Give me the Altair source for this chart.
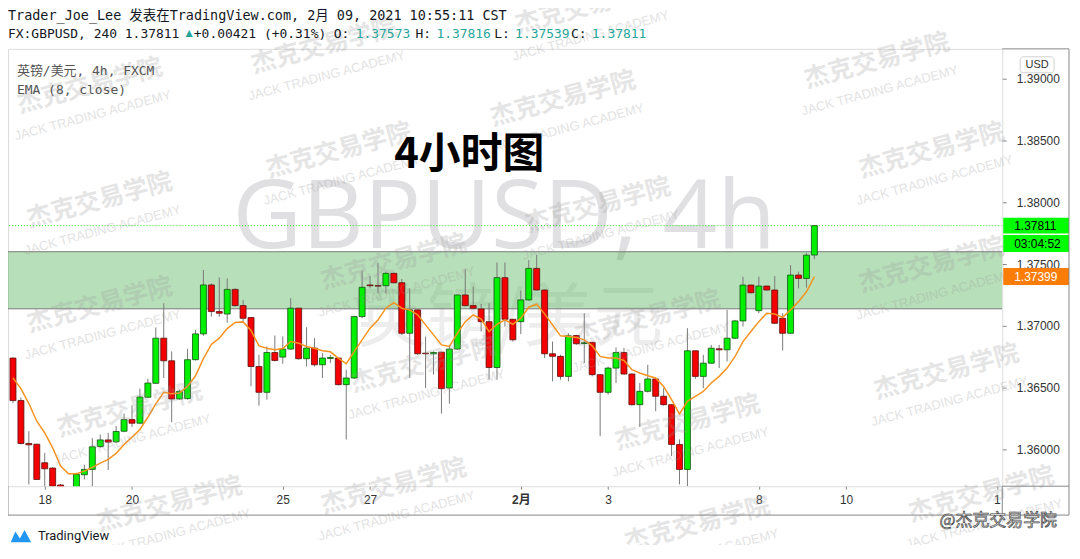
import altair as alt
import pandas as pd

# ---------------- data ----------------
opens = [1.36739, 1.36395, 1.36048, 1.36042, 1.35892, 1.35849, 1.35712, 1.35690, 1.35630, 1.35795,
         1.35838, 1.36023, 1.36077, 1.36061, 1.36147, 1.36241, 1.36212, 1.36422, 1.36535, 1.36900,
         1.36717, 1.36408, 1.36411, 1.36726, 1.36935, 1.37331, 1.37116, 1.37096, 1.37295, 1.37164,
         1.37067, 1.36671, 1.36462, 1.36784, 1.36747, 1.36812, 1.37143, 1.36734, 1.36820, 1.36685,
         1.36736, 1.36739, 1.36524, 1.36578, 1.37075, 1.37331, 1.37325, 1.37325, 1.37425, 1.37349,
         1.36940, 1.37129, 1.36779, 1.36774, 1.36787, 1.36497, 1.36812, 1.37250, 1.37164, 1.37137,
         1.37034, 1.36663, 1.37390, 1.37053, 1.37034, 1.37210, 1.37465, 1.37290, 1.36774, 1.36753,
         1.36591, 1.36922, 1.36857, 1.36866, 1.36605, 1.36462, 1.36658, 1.36784, 1.36610, 1.36362,
         1.36470, 1.36570, 1.36430, 1.36362, 1.36040, 1.35838, 1.36798, 1.36591, 1.36698, 1.36814,
         1.36806, 1.36900, 1.37040, 1.37330, 1.37123, 1.37322, 1.37290, 1.37061, 1.36940, 1.37411,
         1.37384, 1.37573]
highs = [1.36745, 1.36420, 1.36147, 1.36045, 1.35972, 1.35855, 1.35720, 1.35695, 1.35800, 1.35876,
         1.36091, 1.36120, 1.36134, 1.36188, 1.36290, 1.36357, 1.36492, 1.36572, 1.36987, 1.37183,
         1.36793, 1.36484, 1.36814, 1.36968, 1.37452, 1.37344, 1.37392, 1.37384, 1.37304, 1.37209,
         1.37070, 1.36765, 1.36833, 1.36922, 1.36914, 1.37223, 1.37145, 1.36989, 1.36900, 1.36779,
         1.36765, 1.36745, 1.36645, 1.37081, 1.37447, 1.37403, 1.37511, 1.37439, 1.37430, 1.37380,
         1.37304, 1.37135, 1.36914, 1.36793, 1.36790, 1.36833, 1.37255, 1.37460, 1.37317, 1.37177,
         1.37183, 1.37513, 1.37513, 1.37056, 1.37285, 1.37532, 1.37573, 1.37295, 1.36873, 1.36766,
         1.36940, 1.36927, 1.37102, 1.36870, 1.36608, 1.36671, 1.36825, 1.36820, 1.36615, 1.36537,
         1.36685, 1.36575, 1.36497, 1.36365, 1.36081, 1.36981, 1.36800, 1.36765, 1.36846, 1.36846,
         1.37129, 1.37048, 1.37398, 1.37333, 1.37398, 1.37325, 1.37403, 1.37102, 1.37492, 1.37438,
         1.37591, 1.37816]
lows = [1.36376, 1.36040, 1.35717, 1.35752, 1.35650, 1.35640, 1.35620, 1.35580, 1.35600, 1.35757,
        1.35700, 1.36013, 1.35833, 1.36053, 1.36139, 1.36182, 1.36206, 1.36416, 1.36529, 1.36578,
        1.36220, 1.36403, 1.36403, 1.36720, 1.36919, 1.37075, 1.37075, 1.37026, 1.37156, 1.37034,
        1.36510, 1.36354, 1.36403, 1.36712, 1.36693, 1.36806, 1.36726, 1.36671, 1.36671, 1.36578,
        1.36700, 1.36518, 1.36080, 1.36570, 1.37061, 1.37304, 1.37263, 1.37263, 1.37344, 1.36927,
        1.36578, 1.36766, 1.36497, 1.36605, 1.36290, 1.36371, 1.36806, 1.37156, 1.37135, 1.36954,
        1.36564, 1.36564, 1.36994, 1.36873, 1.36932, 1.37202, 1.37285, 1.36739, 1.36551, 1.36564,
        1.36551, 1.36847, 1.36699, 1.36591, 1.36107, 1.36443, 1.36537, 1.36605, 1.36354, 1.36182,
        1.36460, 1.36309, 1.36354, 1.35946, 1.35717, 1.35703, 1.36570, 1.36496, 1.36693, 1.36658,
        1.36712, 1.36892, 1.36994, 1.37263, 1.37102, 1.37285, 1.37015, 1.36800, 1.36935, 1.37303,
        1.37309, 1.37539]
closes = [1.36395, 1.36048, 1.36037, 1.35757, 1.35843, 1.35703, 1.35690, 1.35630, 1.35798, 1.35838,
          1.36021, 1.36077, 1.36059, 1.36145, 1.36241, 1.36212, 1.36424, 1.36537, 1.36900, 1.36717,
          1.36408, 1.36470, 1.36726, 1.36935, 1.37331, 1.37116, 1.37102, 1.37295, 1.37164, 1.37061,
          1.36671, 1.36462, 1.36784, 1.36720, 1.36812, 1.37143, 1.36734, 1.36820, 1.36685, 1.36739,
          1.36744, 1.36524, 1.36578, 1.37075, 1.37312, 1.37325, 1.37322, 1.37425, 1.37349, 1.36940,
          1.37129, 1.36774, 1.36774, 1.36784, 1.36492, 1.36812, 1.37250, 1.37164, 1.37143, 1.37034,
          1.36663, 1.37390, 1.37053, 1.36887, 1.37210, 1.37465, 1.37290, 1.36774, 1.36753, 1.36591,
          1.36919, 1.36855, 1.36863, 1.36605, 1.36462, 1.36658, 1.36784, 1.36610, 1.36362, 1.36470,
          1.36570, 1.36430, 1.36362, 1.36040, 1.35838, 1.36798, 1.36591, 1.36698, 1.36819, 1.36806,
          1.36900, 1.37040, 1.37330, 1.37268, 1.37322, 1.37290, 1.37021, 1.36940, 1.37411, 1.37384,
          1.37572, 1.37811]
ema8 = [1.36578, 1.36492, 1.36371, 1.36228, 1.36134, 1.36013, 1.35865, 1.35803, 1.35803, 1.35824,
        1.35854, 1.35889, 1.35919, 1.35967, 1.36040, 1.36099, 1.36161, 1.36260, 1.36368, 1.36462,
        1.36451, 1.36457, 1.36510, 1.36596, 1.36734, 1.36849, 1.36900, 1.36978, 1.37027, 1.37032,
        1.36962, 1.36838, 1.36819, 1.36806, 1.36817, 1.36873, 1.36860, 1.36833, 1.36819, 1.36798,
        1.36790, 1.36739, 1.36693, 1.36792, 1.36887, 1.36981, 1.37048, 1.37143, 1.37188, 1.37143,
        1.37129, 1.37089, 1.37008, 1.36927, 1.36846, 1.36833, 1.36940, 1.37034, 1.37089, 1.37054,
        1.36954, 1.37013, 1.37048, 1.37013, 1.37062, 1.37151, 1.37175, 1.37097, 1.37008, 1.36919,
        1.36914, 1.36905, 1.36887, 1.36838, 1.36753, 1.36739, 1.36739, 1.36720, 1.36645, 1.36618,
        1.36596, 1.36578, 1.36510, 1.36403, 1.36287, 1.36389, 1.36429, 1.36469, 1.36537, 1.36591,
        1.36658, 1.36752, 1.36873, 1.36954, 1.37034, 1.37102, 1.37096, 1.37069, 1.37129, 1.37196,
        1.37276, 1.37399]

tick_idx = [4, 15, 34, 45, 64, 75, 94, 105, 124]
tick_lbl = ["18", "20", "25", "27", "2月", "3", "8", "10", "1"]
price_ticks = [1.36, 1.365, 1.37, 1.375, 1.38, 1.385, 1.39]
zone_top = [1.37600]
zone_bottom = [1.37138]
last_close = [1.37811]
last_ema = [1.37399]
countdown = "03:04:52"

header1 = "Trader_Joe_Lee 发表在TradingView.com, 2月 09, 2021 10:55:11 CST"
symbol_line = "FX:GBPUSD, 240 1.37811"
change_txt = "+0.00421 (+0.31%)"
ohlc_keys = ["O:", "H:", "L:", "C:"]
ohlc_vals = ["1.37573", "1.37816", "1.37539", "1.37811"]
legend1 = "英镑/美元, 4h, FXCM"
legend2 = "EMA (8, close)"
title_txt = "4小时图"
wm_big1 = "GBPUSD, 4h"
wm_big2 = "英镑/美元"
wm_cn = "杰克交易学院"
wm_en = "JACK TRADING ACADEMY"

# ---------------- layout constants ----------------
W, H = 998, 439
MONO = "DejaVu Sans Mono, Noto Sans CJK SC"
SANS = "Liberation Sans, Noto Sans CJK SC"
CJK = "Noto Sans CJK SC"
TEAL = "#26a69a"
GREEN = "#00f000"
RED = "#f50000"

df = pd.DataFrame({"i": list(range(len(opens))), "open": opens, "high": highs,
                   "low": lows, "close": closes, "ema": ema8})
df["dir"] = ["up" if c >= o else "down" for o, c in zip(opens, closes)]

one = pd.DataFrame({"a": [0]})

xs = alt.Scale(domain=[0, 124.05], nice=False, zero=False)
ys = alt.Scale(domain=[1.35702, 1.39242], nice=False, zero=False)

label_expr = "''"
for v, l in reversed(list(zip(tick_idx, tick_lbl))):
    label_expr = f"datum.value == {v} ? '{l}' : ({label_expr})"

x_axis = alt.Axis(values=tick_idx, labelExpr=label_expr, grid=False, domain=False,
                  tickSize=3, tickColor="#888888", labelPadding=5, labelFontSize=12,
                  labelColor="#333333", labelFont=SANS, title=None, labelOverlap=False,
                  labelFlush=False,
                  labelFontWeight={"condition": {"test": "datum.value == 64", "value": "bold"},
                                   "value": "normal"})
y_axis = alt.Axis(orient="right", values=price_ticks, format=".5f", grid=False, domain=False,
                  tickSize=4, tickColor="#888888", labelPadding=10, labelFontSize=12,
                  labelColor="#333333", labelFont=SANS, title=None)


def X(f):
    return alt.X(f"{f}:Q", scale=xs, axis=x_axis)


def Y(f):
    return alt.Y(f"{f}:Q", scale=ys, axis=y_axis)


def txt(s, x, y, **kw):
    return alt.Chart(one).mark_text(**kw).encode(x=alt.value(x), y=alt.value(y), text=alt.value(s))


def rule(x1, x2, y1, y2, color="#888888"):
    return alt.Chart(one).mark_rule(color=color, strokeWidth=1).encode(
        x=alt.value(x1), x2=alt.value(x2), y=alt.value(y1), y2=alt.value(y2))


layers = []

# big background watermarks
layers.append(txt(wm_big1, 498, 200, font="Open Sans", fontSize=96, color="#e0e0e2",
                  align="center", baseline="alphabetic"))
layers.append(txt(wm_big2, 504, 272, font=CJK, fontSize=70, color="#ededed",
                  align="center", baseline="middle"))

# zone
zdf = pd.DataFrame({"top": zone_top, "bot": zone_bottom})
layers.append(alt.Chart(zdf).mark_rect(color="#4caf50", opacity=0.4, clip=True).encode(
    y=Y("top"), y2="bot:Q"))
zl = pd.DataFrame({"p": zone_top + zone_bottom})
layers.append(alt.Chart(zl).mark_rule(color="#7a7a7a", strokeWidth=1, clip=True).encode(y=Y("p")))

# last price dotted line
lc = pd.DataFrame({"p": last_close})
layers.append(alt.Chart(lc).mark_rule(color="#22e022", strokeDash=[1, 2], strokeWidth=1,
                                      clip=True).encode(y=Y("p")))

# candles
base = alt.Chart(df)
layers.append(base.mark_rule(color="#7a7a7a", strokeWidth=1, clip=True).encode(
    x=X("i"), y=Y("low"), y2="high:Q"))
layers.append(base.mark_bar(size=6, strokeWidth=0.8, clip=True).encode(
    x=X("i"), y=Y("open"), y2="close:Q",
    color=alt.Color("dir:N", scale=alt.Scale(domain=["up", "down"], range=[GREEN, RED]), legend=None),
    stroke=alt.Stroke("dir:N", scale=alt.Scale(domain=["up", "down"], range=["#145214", "#5c1010"]),
                      legend=None)))
layers.append(base.mark_line(color="#f7931e", strokeWidth=1.5, clip=True).encode(
    x=X("i"), y=Y("ema")))

# tiled watermarks (page centre positions minus the 8px/48px plot origin)
wm_pos = [(90, 85), (100, 200), (100, 305), (130, 410), (170, 505),
          (325, 45), (340, 150), (395, 262), (425, 365), (395, 487),
          (590, 5), (565, 98), (600, 205), (650, 318), (690, 423), (700, 525),
          (880, 60), (935, 150), (935, 265), (950, 372), (985, 495)]
for (px, py) in wm_pos:
    layers.append(txt(wm_cn, px - 8, py - 48, font=CJK, fontSize=25, fontWeight="bold",
                      color="#9a9a9a", opacity=0.25, angle=345, align="center", baseline="middle"))
    layers.append(txt(wm_en, px - 5, py - 18, font=SANS, fontSize=13, color="#9a9a9a",
                      opacity=0.28, angle=345, align="center", baseline="middle"))

# header texts
layers.append(txt(header1, 0, -33, font=MONO, fontSize=13.5, color="#131722", align="left",
                  baseline="middle"))
layers.append(txt(symbol_line, 0, -15, font=MONO, fontSize=13, color="#131722", align="left",
                  baseline="middle"))
layers.append(txt("▲", 176, -16, font=SANS, fontSize=12, color=TEAL, align="left", baseline="middle"))
layers.append(txt(change_txt, 186.5, -15, font=MONO, fontSize=13, color="#131722", align="left",
                  baseline="middle"))
for k, v, kx, vx in zip(ohlc_keys, ohlc_vals, [327, 409, 488, 565], [349, 430, 509, 586]):
    layers.append(txt(k, kx, -15, font=MONO, fontSize=13, color="#131722", align="left",
                      baseline="middle"))
    layers.append(txt(v, vx, -15, font=MONO, fontSize=13, color=TEAL, align="left",
                      baseline="middle"))

layers.append(txt(legend1, 9, 22, font=MONO, fontSize=13, color="#555555", align="left",
                  baseline="middle"))
layers.append(txt(legend2, 9, 41, font=MONO, fontSize=13, color="#555555", align="left",
                  baseline="middle"))
layers.append(txt(title_txt, 463, 107, font=CJK, fontSize=42, fontWeight="bold", color="#000000",
                  align="center", baseline="middle"))

# price-scale labels
layers.append(alt.Chart(lc).mark_tick(orient="horizontal", size=66, thickness=16, color="#00ff00",
                                      opacity=1).encode(x=alt.value(1032), y=Y("p")))
layers.append(alt.Chart(lc).mark_tick(orient="horizontal", size=66, thickness=17, color="#00ff00",
                                      opacity=1, yOffset=18).encode(x=alt.value(1032), y=Y("p")))
le = pd.DataFrame({"p": last_ema})
layers.append(alt.Chart(le).mark_tick(orient="horizontal", size=66, thickness=17, color="#fb7d07",
                                      opacity=1).encode(x=alt.value(1032), y=Y("p")))
layers.append(alt.Chart(lc).mark_text(align="left", baseline="middle", fontSize=12, font=SANS,
                                      color="#000000").encode(
    x=alt.value(1010), y=Y("p"), text=alt.Text("p:Q", format=".5f")))
layers.append(alt.Chart(lc).mark_text(align="left", baseline="middle", fontSize=12, font=SANS,
                                      color="#000000", yOffset=18).encode(
    x=alt.value(1010), y=Y("p"), text=alt.value(countdown)))
layers.append(alt.Chart(le).mark_text(align="left", baseline="middle", fontSize=12, font=SANS,
                                      color="#ffffff").encode(
    x=alt.value(1010), y=Y("p"), text=alt.Text("p:Q", format=".5f")))

# USD box
layers.append(alt.Chart(one).mark_rect(fill="#ffffff", stroke="#d0d0d0", strokeWidth=1,
                                       cornerRadius=3).encode(
    x=alt.value(1016), x2=alt.value(1050), y=alt.value(8), y2=alt.value(24)))
layers.append(txt("USD", 1033, 16, font=SANS, fontSize=11, color="#333333", align="center",
                  baseline="middle"))

# frame
layers += [rule(1065, 1065, 0, 468), rule(0, 1065, 468, 468), rule(998, 1065, 0, 0),
           rule(998, 1065, 439, 439), rule(998, 998, 439, 468), rule(0, 0, 439, 468)]

# footer
layers.append(alt.Chart(one).mark_point(
    shape="M-1,0.6 L-0.55,-0.45 L-0.1,0.25 L0.35,-0.6 L1,0.6 Z", filled=True,
    color="#2196f3", opacity=1, size=420).encode(x=alt.value(13), y=alt.value(489)))
layers.append(txt("TradingView", 30, 489, font="Roboto", fontSize=13, color="#131722",
                  align="left", baseline="middle"))
layers.append(txt("@" + wm_cn, 935, 474, font=CJK, fontSize=17, color="#ffffff", stroke="#444444",
                  strokeWidth=0.7, align="left", baseline="middle"))

chart = alt.layer(*layers).properties(
    width=W, height=H,
    autosize=alt.AutoSizeParams(type="none"),
    padding={"left": 0, "top": 40, "right": 70, "bottom": 58},
).configure_view(stroke="#888888", strokeWidth=1).configure(background="#ffffff")

chart.save("out.html", embed_options={"renderer": "svg", "actions": False})
